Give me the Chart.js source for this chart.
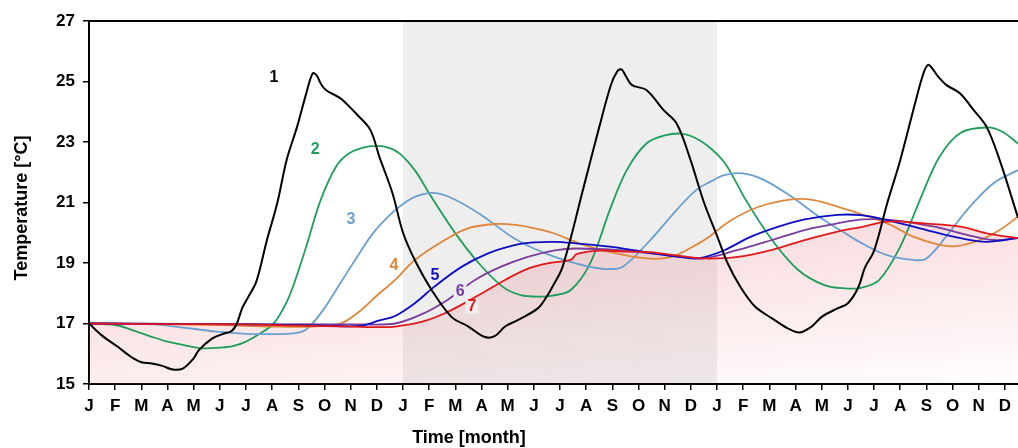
<!DOCTYPE html>
<html><head><meta charset="utf-8">
<script src="https://cdn.jsdelivr.net/npm/chart.js@4/dist/chart.umd.min.js"></script>
<style>html,body{margin:0;padding:0;background:#fff;}#wrap{width:1018px;height:448px;position:relative;}</style>
</head><body><div id="wrap"><canvas id="c" width="1018" height="448"></canvas></div>
<script>
const monthLetters = ['J','F','M','A','M','J','J','A','S','O','N','D'];
const tickLabels = [...monthLetters, ...monthLetters, ...monthLetters];
const yTicks = [15,17,19,21,23,25,27];
const seriesNames = ['1','2','3','4','5','6','7'];
const seriesColors = ['#000000','#1f9e5a','#6c9fcd','#e0863a','#0c0cc4','#7a3c9e','#e0191c'];
const drawOrder = [0,6,5,4,2,3,1];
// [month index from first January, temperature °C]
const s1 = [[0,17.0],[0.5,16.6],[1.1,16.23],[1.6,15.9],[2.0,15.72],[2.4,15.68],[2.8,15.6],[3.2,15.48],[3.6,15.52],[4.0,15.85],[4.2,16.12],[4.7,16.5],[5.1,16.65],[5.45,16.75],[5.65,17.0],[5.85,17.5],[6.1,17.9],[6.4,18.4],[6.8,19.76],[7.2,21.0],[7.55,22.4],[7.95,23.5],[8.3,24.6],[8.55,25.27],[8.7,25.2],[8.85,24.94],[9.05,24.72],[9.6,24.45],[9.95,24.17],[10.25,23.9],[10.75,23.4],[11.1,22.5],[11.6,21.3],[12.0,20.0],[12.45,19.1],[13.1,18.1],[13.85,17.22],[14.5,16.9],[15.1,16.56],[15.5,16.58],[15.9,16.9],[16.4,17.12],[17.15,17.5],[17.5,17.9],[17.7,18.2],[18.1,18.88],[18.9,21.5],[19.5,23.5],[19.95,24.9],[20.2,25.35],[20.35,25.4],[20.5,25.2],[20.75,24.88],[21.3,24.72],[21.95,24.06],[22.45,23.62],[22.95,22.5],[23.5,21.0],[24.0,19.9],[24.4,19.0],[24.9,18.2],[25.45,17.56],[26.1,17.17],[26.7,16.84],[27.15,16.7],[27.6,16.89],[28.0,17.22],[28.6,17.5],[29.0,17.67],[29.4,18.2],[29.65,18.85],[30.0,19.4],[30.5,20.97],[31.0,22.4],[31.6,24.39],[31.9,25.3],[32.07,25.55],[32.25,25.4],[32.45,25.16],[32.77,24.88],[33.28,24.61],[33.8,24.06],[34.3,23.5],[34.8,22.4],[35.5,20.5]];
const s2 = [[0,17],[1.0,16.95],[1.6,16.8],[2.4,16.56],[3.0,16.4],[3.67,16.28],[4.3,16.18],[5.0,16.2],[5.5,16.25],[6.0,16.4],[6.6,16.7],[7.0,16.95],[7.3,17.3],[7.7,18.0],[8.3,19.54],[8.85,21.08],[9.45,22.2],[9.9,22.6],[10.4,22.8],[11.0,22.87],[11.5,22.8],[11.9,22.6],[12.45,22.07],[13.0,21.3],[14.0,19.98],[14.9,18.99],[15.8,18.22],[16.5,17.94],[17.3,17.89],[17.7,17.92],[18.4,18.1],[19.15,18.99],[19.9,20.75],[20.55,22.07],[21.3,22.95],[22.0,23.22],[22.6,23.28],[23.0,23.2],[23.6,22.9],[24.3,22.3],[25.1,21.08],[26.1,19.76],[27.1,18.77],[28.1,18.27],[28.9,18.16],[29.5,18.18],[30.2,18.44],[31.0,19.54],[31.75,21.08],[32.5,22.51],[33.3,23.3],[34.3,23.48],[34.9,23.34],[35.5,22.95]];
const s3 = [[0,17],[2.5,16.97],[3.3,16.9],[4.9,16.73],[6.0,16.66],[7.0,16.65],[7.8,16.67],[8.3,16.8],[8.95,17.45],[9.6,18.33],[10.25,19.21],[10.85,19.98],[11.5,20.59],[12.0,20.95],[12.5,21.2],[13.1,21.32],[13.75,21.19],[14.9,20.64],[16.15,19.87],[17.0,19.48],[17.8,19.2],[18.6,18.99],[19.3,18.85],[19.8,18.8],[20.4,18.88],[21.45,19.76],[22.45,20.75],[23.2,21.41],[23.75,21.69],[24.3,21.91],[25.0,21.96],[25.8,21.74],[26.85,21.19],[27.9,20.53],[28.9,19.98],[29.6,19.62],[30.5,19.26],[31.5,19.1],[32.0,19.15],[32.75,19.87],[33.55,20.75],[34.55,21.63],[35.5,22.07]];
const s4 = [[0,17],[5,16.95],[7,16.9],[8.5,16.9],[9.6,17.0],[10.25,17.34],[11.1,18.0],[11.7,18.44],[12.45,19.1],[13.6,19.76],[14.5,20.15],[15.5,20.29],[16.3,20.26],[17.0,20.15],[17.7,20.0],[18.9,19.6],[20.15,19.32],[21.3,19.15],[21.95,19.15],[22.45,19.26],[23.2,19.6],[23.7,19.87],[24.55,20.42],[25.6,20.86],[26.85,21.1],[27.7,21.08],[28.6,20.86],[29.5,20.62],[30.5,20.31],[31.5,19.87],[32.5,19.6],[33.15,19.56],[34.05,19.76],[34.8,20.09],[35.5,20.53]];
const s5 = [[0,17],[6,16.97],[9,16.93],[10.35,16.92],[11.1,17.1],[11.7,17.25],[12.45,17.67],[13.2,18.22],[14.25,18.88],[15.25,19.32],[16.3,19.6],[17.0,19.68],[17.8,19.7],[18.6,19.65],[19.9,19.54],[21.2,19.37],[22.45,19.21],[23.2,19.15],[23.7,19.24],[24.3,19.43],[25.3,19.87],[26.35,20.2],[27.35,20.44],[28.6,20.59],[29.5,20.58],[30.5,20.42],[32.0,20.09],[33.3,19.82],[34.3,19.7],[35.5,19.82]];
const s6 = [[0,17],[10.5,16.97],[11.7,17.0],[12.7,17.3],[13.7,17.78],[14.75,18.44],[15.75,18.88],[16.8,19.21],[17.8,19.42],[18.6,19.48],[20.15,19.43],[21.45,19.32],[22.7,19.21],[23.5,19.15],[24.8,19.43],[26.1,19.76],[27.35,20.09],[28.6,20.31],[29.6,20.44],[30.7,20.42],[32.3,20.2],[33.55,19.93],[34.55,19.76],[35.5,19.82]];
const s7 = [[0,17],[3,16.98],[6,16.97],[8,16.93],[10,16.9],[11,16.88],[11.7,16.9],[12.7,17.05],[13.7,17.38],[14.9,17.94],[15.9,18.44],[16.8,18.82],[17.6,19.0],[18.4,19.1],[18.65,19.3],[19.5,19.41],[20.4,19.38],[21.4,19.36],[22.7,19.22],[23.5,19.15],[24.8,19.2],[26.1,19.43],[27.35,19.76],[28.6,20.04],[29.6,20.2],[30.5,20.37],[32.0,20.3],[33.3,20.2],[34.3,19.98],[35.5,19.82]];
const seriesData = [s1,s2,s3,s4,s5,s6,s7];
// curve label anchors [month, temperature]
const labelAnchors = [[7.07,25.13],[8.64,22.74],[10.01,20.42],[11.65,18.93],[13.22,18.6],[14.18,18.04],[14.63,17.55]];
const shadedYear = [12,24];

const fillGradient = (ctx) => {
  const chart = ctx.chart, a = chart.chartArea;
  if (!a) return 'rgba(0,0,0,0)';
  const ys = chart.scales.y;
  const y0 = ys.getPixelForValue(22.2), y1 = ys.getPixelForValue(14.4);
  const x0 = a.right - 120, x1 = x0 + 0.09*(y1-y0);
  const g = chart.ctx.createLinearGradient(x0,y0,x1,y1);
  g.addColorStop(0,'rgba(232,110,120,0.30)');
  g.addColorStop(1,'rgba(232,110,120,0.0)');
  return g;
};

const bandPlugin = {
  id:'band',
  beforeDraw(chart){
    const {ctx, chartArea:a, scales:{x}} = chart;
    ctx.save();
    ctx.fillStyle = '#eeeeee';
    const xa = x.getPixelForValue(shadedYear[0]), xb = x.getPixelForValue(shadedYear[1]);
    ctx.fillRect(xa, a.top, xb-xa, a.bottom-a.top);
    ctx.restore();
  }
};
const decoPlugin = {
  id:'deco',
  afterDatasetsDraw(chart){
    const {ctx, chartArea:a, scales:{x,y}} = chart;
    ctx.save();
    ctx.strokeStyle = '#000'; ctx.lineWidth = 2;
    ctx.beginPath(); ctx.moveTo(a.left, a.top); ctx.lineTo(a.right, a.top); ctx.stroke();
    ctx.font = 'bold 16px "Liberation Sans", Arial, sans-serif';
    ctx.textAlign = 'center'; ctx.textBaseline = 'middle';
    labelAnchors.forEach((p,i)=>{
      const px = x.getPixelForValue(p[0]), py = y.getPixelForValue(p[1]);
      const w = ctx.measureText(seriesNames[i]).width;
      const inBand = p[0] >= shadedYear[0] && p[0] <= shadedYear[1];
      if (i >= 5) {
        ctx.fillStyle = inBand ? '#eeeeee' : '#ffffff';
        ctx.fillRect(px - w/2 - 2, py - 7, w + 4, 14);
      }
      ctx.fillStyle = seriesColors[i];
      ctx.fillText(seriesNames[i], px, py);
    });
    ctx.restore();
  },
  afterDraw(chart){
    const ctx = chart.ctx;
    ctx.save();
    ctx.fillStyle = '#000';
    ctx.font = 'bold 18px "Liberation Sans", Arial, sans-serif';
    ctx.textAlign = 'center'; ctx.textBaseline = 'middle';
    ctx.fillText('Time [month]', 469, 438);
    ctx.translate(22, 208); ctx.rotate(-Math.PI/2);
    ctx.fillText('Temperature [°C]', 0, 0);
    ctx.restore();
  }
};

const tickFont = {family:'"Liberation Sans", Arial, sans-serif', size:17, weight:'bold'};
new Chart(document.getElementById('c'), {
  type:'line',
  data:{datasets: seriesData.map((s,i)=>({
    label: seriesNames[i],
    data: s.map(p=>({x:p[0], y:p[1]})),
    borderColor: seriesColors[i],
    borderWidth: i===0 ? 2 : 1.8,
    pointRadius: 0,
    tension: 0.35,
    order: drawOrder[i],
    fill: i===6 ? 'start' : false,
    backgroundColor: i===6 ? fillGradient : 'rgba(0,0,0,0)'
  }))},
  options:{
    responsive:false, animation:false,
    layout:{padding:{left:0,right:0,top:21,bottom:0}},
    plugins:{legend:{display:false}, tooltip:{enabled:false}, filler:{drawTime:'beforeDatasetsDraw'}},
    scales:{
      x:{type:'linear', min:0, max:35.5,
        afterBuildTicks: s => { s.ticks = tickLabels.map((_,i)=>({value:i})); },
        afterFit: s => { s.height = 64; },
        ticks:{autoSkip:false, maxRotation:0, minRotation:0, padding:6, color:'#000', font:tickFont,
          callback: v => tickLabels[Math.round(v)]},
        grid:{display:true, drawOnChartArea:false, drawTicks:true, tickLength:6, color:'#000', lineWidth:1.5},
        border:{display:true, color:'#000', width:2}
      },
      y:{min:15, max:27,
        afterBuildTicks: s => { s.ticks = yTicks.map(v=>({value:v})); },
        afterFit: s => { s.width = 89; },
        ticks:{padding:8, color:'#000', font:tickFont},
        grid:{display:true, drawOnChartArea:false, drawTicks:true, tickLength:6, color:'#000', lineWidth:1.5},
        border:{display:true, color:'#000', width:2}
      }
    }
  },
  plugins:[bandPlugin, decoPlugin]
});
</script></body></html>
